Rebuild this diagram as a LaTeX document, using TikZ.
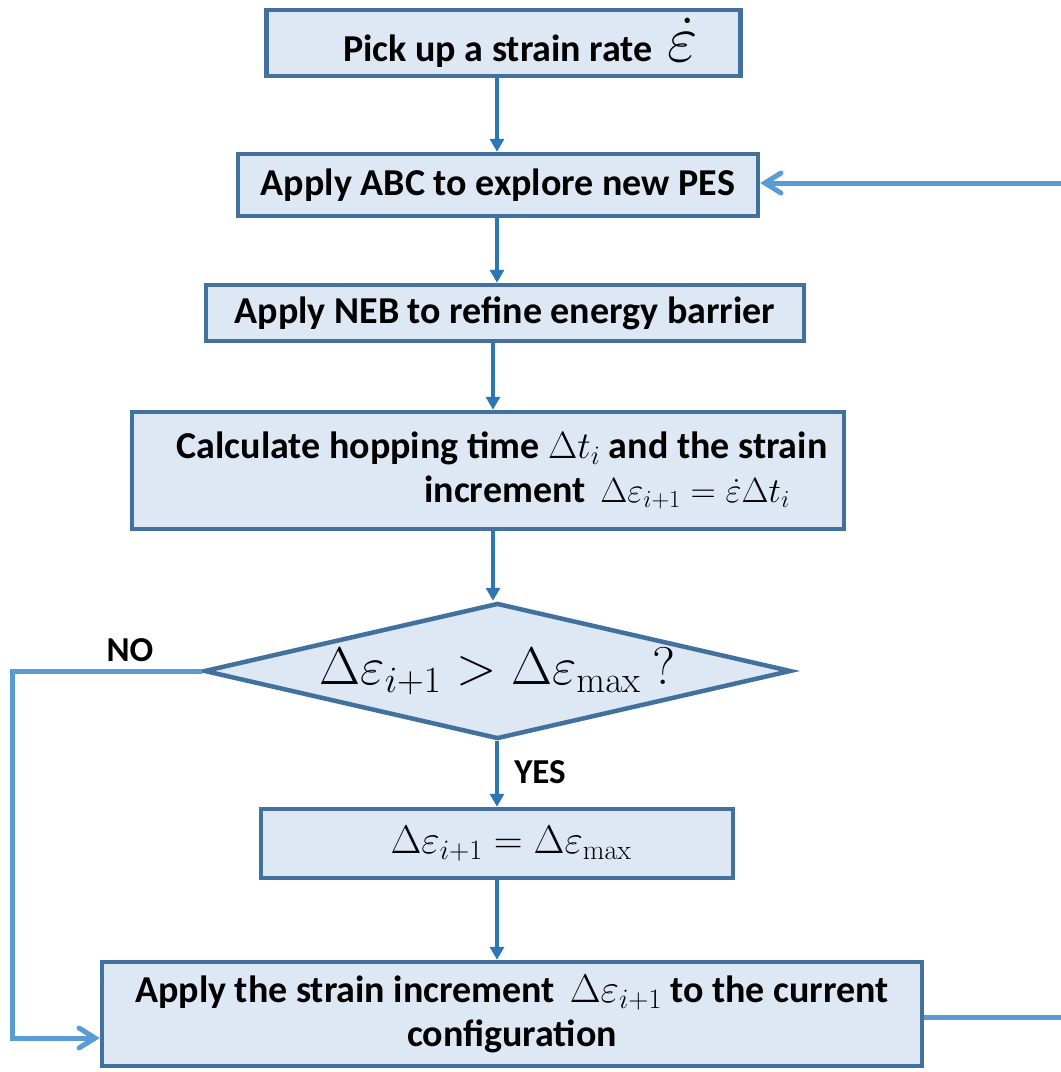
\RequirePackage{fix-cm}
\documentclass[tikz,border=0pt]{standalone}
\usepackage[no-math]{fontspec}
\setmainfont{Carlito}
\usetikzlibrary{shapes.geometric,arrows.meta}
\definecolor{boxfill}{HTML}{DEE8F4}
\definecolor{boxline}{HTML}{41719C}
\definecolor{flow}{HTML}{2E75B6}
\definecolor{loop}{HTML}{5B9BD5}
\begin{document}
\begin{tikzpicture}[x=1pt,y=-1pt,
  box/.style={draw=boxline, fill=boxfill, line width=4.5pt, inner sep=0pt, align=center,
    font=\fontsize{38}{44}\selectfont\bfseries},
  flowarrow/.style={draw=flow, line width=4pt, -{Triangle[length=13pt,width=14pt]}},
  loopline/.style={draw=loop, line width=5pt},
  looparrow/.style={loopline, -{Straight Barb[length=16pt,width=20pt,line cap=round]}},
  lab/.style={font=\fontsize{35}{38}\selectfont\bfseries}]
\useasboundingbox (0,0) rectangle (1061,1072);

\node[box, minimum width=474pt, minimum height=66pt] (b1) at (503.5,43)
  {\hspace*{34pt}Pick up a strain rate\, {\fontsize{66}{60}\selectfont$\dot{\varepsilon}$}};
\node[box, minimum width=520pt, minimum height=62pt] (b2) at (498,185)
  {Apply ABC to explore new PES};
\node[box, minimum width=598pt, minimum height=56pt] (b3) at (505,313)
  {Apply NEB to refine energy barrier};
\node[box, minimum width=712pt, minimum height=117pt] (b4) at (488,470.5)
  {\hspace*{28pt}Calculate hopping time {\fontsize{38}{38}\selectfont$\Delta t_i$} and the strain\\
   \hspace*{238pt}increment\, {\fontsize{35}{35}\selectfont$\Delta\varepsilon_{i+1}=\dot{\varepsilon}\Delta t_i$}};
\node[diamond, draw=boxline, fill=boxfill, line width=4.5pt, inner sep=0pt, aspect=4.3,
  minimum width=587pt, minimum height=136pt] (d) at (497.5,671)
  {\fontsize{53}{53}\selectfont$\Delta\varepsilon_{i+1}>\Delta\varepsilon_{\max}\ ?$};
\node[box, minimum width=472pt, minimum height=69pt] (b6) at (497,843.5)
  {\fontsize{40}{40}\selectfont\hspace*{28pt}$\Delta\varepsilon_{i+1}=\Delta\varepsilon_{\max}$};
\node[box, minimum width=820pt, minimum height=104pt] (b7) at (512,1014)
  {Apply the strain increment\, {\fontsize{40}{40}\selectfont$\Delta\varepsilon_{i+1}$} to the current\\configuration};

\node[lab] (no) at (130,650) {NO};
\node[lab] (yes) at (540,772) {YES};

\coordinate (ax) at (497,0);
\coordinate (ax2) at (493,0);
\draw[flowarrow] (b1.south -| ax) -- (b2.north -| ax);
\draw[flowarrow] (b2.south -| ax) -- (b3.north -| ax);
\draw[flowarrow] (b3.south -| ax2) -- (b4.north -| ax2);
\draw[flowarrow] (b4.south -| ax2) -- (d.north -| ax2);
\draw[flowarrow] (d.south -| ax) -- (b6.north -| ax);
\draw[flowarrow] (b6.south -| ax) -- (b7.north -| ax);

\coordinate (nol) at (12,1038);
\draw[looparrow] (d.west) -| (nol) -- (b7.west |- nol);
\coordinate (rr) at (1061,1017);
\draw[loopline] (b7.east |- rr) -- (rr);
\coordinate (rt) at (1061,183);
\draw[looparrow] (rt) -- (b2.east |- rt);
\end{tikzpicture}
\end{document}
